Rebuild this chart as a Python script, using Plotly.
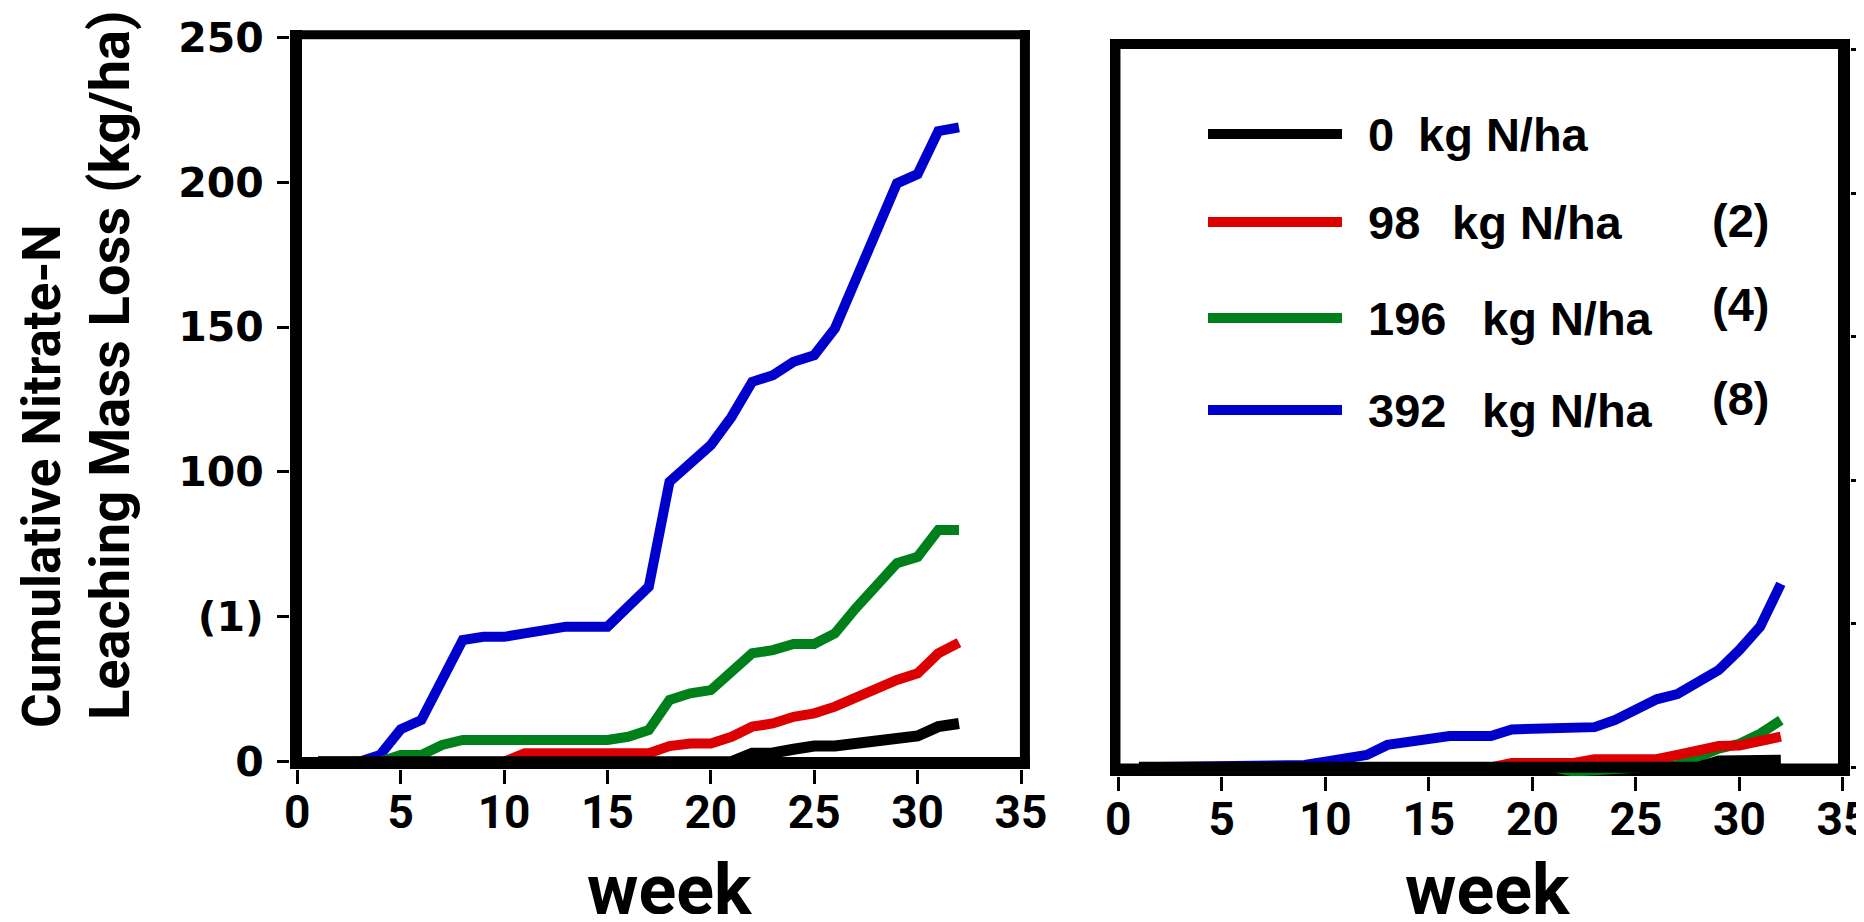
import plotly.graph_objects as go

# page body has an 8px default margin; the figure is sized to fit inside it
PAGE_W, PAGE_H, BODY_MARGIN = 1864, 922, 8
W, H = PAGE_W - 2 * BODY_MARGIN, PAGE_H - 2 * BODY_MARGIN

weeks = list(range(1, 33))

# Left panel (cumulative nitrate-N loss, kg/ha)
left_0 = [0]*21 + [2.9, 3.0, 4.3, 5.4, 5.4, 6.3, 6.3, 7.5, 8.9, 12.1, 13.2]
left_98 = [0]*10 + [2.9]*7 + [5.4, 6.3, 6.3, 8.6, 12.1, 13.2, 15.5, 16.7, 19.0, 22.2, 25.9, 28.2, 30.5, 37.4, 41.1]
left_196 = [0, 0, 0, 0, 2.3, 2.3, 5.8, 7.5, 7.5, 7.5, 7.5, 7.5, 7.5, 7.5, 7.5, 8.6, 10.9, 21.3, 23.6, 24.7,
            30.5, 37.4, 38.5, 40.6, 40.6, 44.3, 52.9, 60.4, 68.5, 70.7, 80.0, 80.0]
left_392 = [0, 0, 0, 2.3, 11.2, 14.4, 28.2, 42.0, 43.1, 43.1, 44.3, 45.4, 46.6, 46.6, 46.6, 53.5, 60.4, 96.6,
            103.5, 109.3, 119.0, 131.1, 133.4, 138.0, 140.3, 149.5, 166.2, 182.3, 199.6, 202.8, 217.6, 218.9]

# Right panel
right_0 = [0]*28 + [2.2, 2.5, 2.5, 2.5]
right_98 = [0]*18 + [1.5, 1.5, 1.5, 1.5, 2.8, 2.8, 2.8, 2.8, 4.3, 6.3, 7.4, 7.6, 9.5, 10.7]
right_196 = [0]*21 + [-1.5, -1.2, -0.8, -0.5, -0.2, 0.8, 3.6, 6.5, 8.2, 11.7, 16.4]
right_392 = [0]*8 + [0.8, 2.0, 3.1, 4.3, 7.8, 8.9, 9.9, 10.9, 10.9, 10.9, 13.2, 13.2, 13.2, 14.0, 14.0,
             16.5, 20.2, 23.7, 25.5, 29.3, 33.9, 40.9, 49.0, 63.9]

series_names = ["0 kg N/ha", "98 kg N/ha", "196 kg N/ha", "392 kg N/ha"]
legend_nums = ["0", "98", "196", "392"]
legend_notes = ["", "(2)", "(4)", "(8)"]
colors = ["#000000", "#DD0000", "#00801A", "#0000CD"]
line_widths = [11, 10, 10, 10]

x_ticks = [0, 5, 10, 15, 20, 25, 30, 35]
y_ticks = [0, 50, 100, 150, 200, 250]
y_ticktext = ["0", "(1)", "100", "150", "200", "250"]


def px(x):
    return (x - BODY_MARGIN) / W


def py(y):
    return 1 - (y - BODY_MARGIN) / H


fig = go.Figure()

left_data = [left_0, left_98, left_196, left_392]
right_data = [right_0, right_98, right_196, right_392]
order = [3, 2, 1, 0]
for i in order:
    fig.add_trace(go.Scatter(x=weeks, y=left_data[i], mode="lines", name=series_names[i],
                             line=dict(color=colors[i], width=line_widths[i]), xaxis="x", yaxis="y",
                             showlegend=False))
for i in order:
    fig.add_trace(go.Scatter(x=weeks, y=right_data[i], mode="lines", name=series_names[i],
                             line=dict(color=colors[i], width=line_widths[i]), xaxis="x2", yaxis="y2",
                             showlegend=False))

cond = "Roboto, Liberation Sans, Arial, sans-serif"
xtick_font = dict(family=cond, size=46, color="black", weight="bold")
ytick_font = dict(family="DejaVu Sans, Verdana, sans-serif", size=41, color="black", weight="bold")

common_x = dict(tickvals=x_ticks, ticks="outside", ticklen=14, tickwidth=3, tickcolor="black",
                showgrid=False, zeroline=False, showline=False, tickfont=xtick_font,
                ticklabelstandoff=-11, automargin=False, ticklabeloverflow="allow")

fig.update_layout(
    width=W, height=H, margin=dict(l=0, r=0, t=0, b=0, autoexpand=False),
    paper_bgcolor="white", plot_bgcolor="white", showlegend=False,
    xaxis=dict(domain=[px(290), px(1030)], range=[-0.353, 35.435], anchor="y", **common_x),
    yaxis=dict(domain=[py(769), py(30)], range=[-2.52, 252.52], anchor="x",
               tickvals=y_ticks, ticktext=y_ticktext, ticks="outside", ticklen=12, tickwidth=3,
               tickcolor="black", showgrid=False, zeroline=False, showline=False,
               tickfont=ytick_font, ticklabelstandoff=5, automargin=False),
    xaxis2=dict(domain=[px(1110), px(1850)], range=[-0.40, 35.34], anchor="y2", **common_x),
    yaxis2=dict(domain=[py(776), py(39)], range=[-3.03, 253.8], anchor="x2", side="right",
                tickvals=y_ticks, ticks="outside", ticklen=14, tickwidth=3, tickcolor="black",
                showticklabels=False, showgrid=False, zeroline=False, showline=False,
                automargin=False),
)

# frames (drawn as lines in axis coordinates)
frame_lines = [
    # left panel
    dict(xref="x", yref="y", x0=-0.063, x1=-0.063, y0=-2.52, y1=252.52, w=12),
    dict(xref="x", yref="y", x0=35.19, x1=35.19, y0=-2.52, y1=252.52, w=10),
    dict(xref="x", yref="y", x0=-0.353, x1=35.435, y0=250.9, y1=250.9, w=9),
    dict(xref="x", yref="y", x0=-0.353, x1=35.435, y0=-0.45, y1=-0.45, w=12),
    # right panel
    dict(xref="x2", yref="y2", x0=-0.16, x1=-0.16, y0=-3.03, y1=253.8, w=11),
    dict(xref="x2", yref="y2", x0=35.05, x1=35.05, y0=-3.03, y1=253.8, w=12),
    dict(xref="x2", yref="y2", x0=-0.40, x1=35.34, y0=252.1, y1=252.1, w=10),
    dict(xref="x2", yref="y2", x0=-0.40, x1=35.34, y0=-0.94, y1=-0.94, w=13),
]
for f in frame_lines:
    fig.add_shape(type="line", xref=f["xref"], yref=f["yref"], x0=f["x0"], x1=f["x1"],
                  y0=f["y0"], y1=f["y1"], line=dict(color="black", width=f["w"]), layer="below")

# legend drawn inside right panel
legend_y = [134, 222, 318, 410]
legend_font = dict(family="Liberation Sans, Arial, sans-serif", size=47, color="black", weight="bold")
for i in range(4):
    yy = legend_y[i]
    fig.add_shape(type="line", xref="paper", yref="paper", x0=px(1208), x1=px(1342),
                  y0=py(yy), y1=py(yy), line=dict(color=colors[i], width=10))
    fig.add_annotation(text=legend_nums[i], xref="paper", yref="paper", x=px(1366), y=py(yy),
                       xanchor="left", yanchor="middle", showarrow=False, font=legend_font)
    kg_x = 1416 if i == 0 else (1450 if i == 1 else 1480)
    fig.add_annotation(text="kg N/ha", xref="paper", yref="paper", x=px(kg_x), y=py(yy),
                       xanchor="left", yanchor="middle", showarrow=False, font=legend_font)
note_y = [None, 221, 304, 398]
for i in range(1, 4):
    fig.add_annotation(text=legend_notes[i], xref="paper", yref="paper", x=px(1740), y=py(note_y[i]),
                       xanchor="center", yanchor="middle", showarrow=False, font=legend_font)

# axis titles
fig.add_annotation(text="Cumulative Nitrate-N", xref="paper", yref="paper", x=px(42), y=py(476),
                   xanchor="center", yanchor="middle", textangle=-90, showarrow=False,
                   font=dict(family=cond, size=53, color="black", weight="bold"))
fig.add_annotation(text="Leaching Mass Loss (kg/ha)", xref="paper", yref="paper", x=px(110), y=py(365),
                   xanchor="center", yanchor="middle", textangle=-90, showarrow=False,
                   font=dict(family=cond, size=56, color="black", weight="bold"))
week_font = dict(family=cond, size=70, color="black", weight="bold")
fig.add_annotation(text="week", xref="paper", yref="paper", x=px(670), y=py(890),
                   xanchor="center", yanchor="middle", showarrow=False, font=week_font)
fig.add_annotation(text="week", xref="paper", yref="paper", x=px(1488), y=py(890),
                   xanchor="center", yanchor="middle", showarrow=False, font=week_font)

fig.write_html("out.html")
